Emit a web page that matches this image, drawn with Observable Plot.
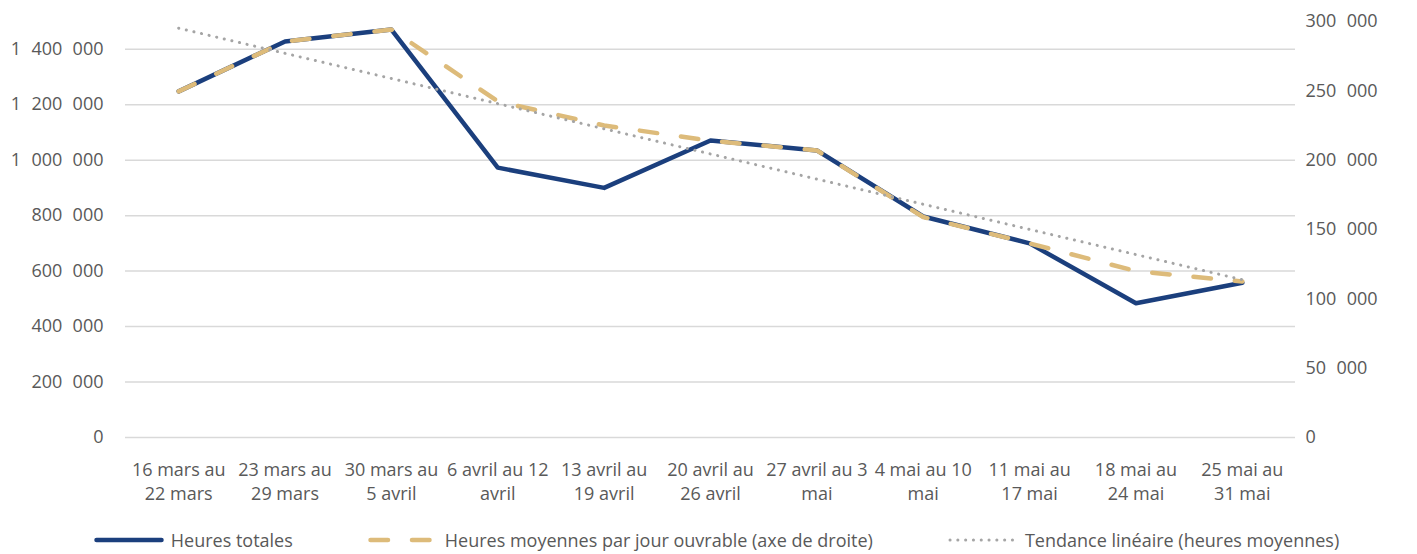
<!DOCTYPE html>
<html>
<head>
<meta charset="utf-8">
<script src="https://cdn.jsdelivr.net/npm/d3@7"></script>
<script src="https://cdn.jsdelivr.net/npm/@observablehq/plot@0.6"></script>
<style>
  html, body { margin: 0; padding: 0; background: #fff; }
  #chart { width: 1417px; }
  .legend { display: flex; justify-content: center; align-items: center; gap: 75px; width: 1417px; height: 44px; padding-left: 16px; padding-top: 16px; box-sizing: border-box;
    font-family: "Open Sans", sans-serif; font-size: 18px; color: #595959; }
  .legend .item { display: flex; align-items: center; gap: 7px; }
  .legend svg { display: block; }
</style>
</head>
<body>
<div id="chart"></div>
<script>
const categories = [
  "16 mars au\n22 mars", "23 mars au\n29 mars", "30 mars au\n5 avril", "6 avril au 12\navril",
  "13 avril au\n19 avril", "20 avril au\n26 avril", "27 avril au 3\nmai", "4 mai au 10\nmai",
  "11 mai au\n17 mai", "18 mai au\n24 mai", "25 mai au\n31 mai"
];
const heuresTotales = [1248000, 1428000, 1471000, 973000, 900000, 1071000, 1035000, 797000, 700000, 484000, 558000];
const heuresMoyennes = [249600, 285600, 294200, 242400, 225000, 214000, 207000, 159000, 140000, 120000, 112500];
const leftTicks = [0, 200000, 400000, 600000, 800000, 1000000, 1200000, 1400000];
const rightTicks = [0, 50000, 100000, 150000, 200000, 250000, 300000];
const seriesNames = ["Heures totales", "Heures moyennes par jour ouvrable (axe de droite)", "Tendance linéaire (heures moyennes)"];

const RATIO = 5; // right axis max 300 000 vs left axis max 1 500 000
const colors = { total: "#1B3F7D", avg: "#DDBB7A", trend: "#A5A5A5" };

const data = categories.map((c, i) => ({ i, total: heuresTotales[i], avg: heuresMoyennes[i] }));
const fmt = v => d3.format(",")(v).replace(/,/g, "\u2007");

const plot = Plot.plot({
  width: 1417,
  height: 510,
  marginLeft: 125,
  marginRight: 122,
  marginTop: 21,
  marginBottom: 73,
  style: { fontFamily: "'Open Sans', sans-serif", fontSize: "18px", color: "#595959", background: "#fff" },
  x: { type: "linear", domain: [-0.5, categories.length - 0.5], axis: null },
  y: { domain: [0, 1500000], axis: null },
  marks: [
    Plot.gridY(leftTicks, { stroke: "#D9D9D9", strokeOpacity: 1, strokeWidth: 1.5 }),
    Plot.axisY({ anchor: "left", label: null, ticks: leftTicks, tickFormat: fmt, tickSize: 0, tickPadding: 22, fill: "#595959" }),
    Plot.axisY({ anchor: "right", label: null, ticks: rightTicks.map(v => v * RATIO), tickFormat: v => fmt(v / RATIO), tickSize: 0, tickPadding: 10, fill: "#595959" }),
    Plot.axisX({ label: null, ticks: d3.range(categories.length), tickFormat: i => categories[i], tickSize: 0, tickPadding: 21, lineHeight: 1.36, fill: "#595959" }),
    Plot.line(data, { x: "i", y: "total", stroke: colors.total, strokeWidth: 4.5, strokeLinejoin: "round", strokeLinecap: "round" }),
    Plot.line(data, { x: "i", y: d => d.avg * RATIO, stroke: colors.avg, strokeWidth: 4.5, strokeDasharray: "17.5,24", strokeLinecap: "round", strokeLinejoin: "round" }),
    Plot.linearRegressionY(data, { x: "i", y: d => d.avg * RATIO, ci: 0, stroke: colors.trend, strokeWidth: 3, strokeDasharray: "0.1,7.7", strokeLinecap: "round" })
  ]
});
document.getElementById("chart").appendChild(plot);

// Legend
const legend = document.createElement("div");
legend.className = "legend";
const swatches = [
  `<line x1="2.5" y1="8" x2="67.5" y2="8" stroke="${colors.total}" stroke-width="4.5" stroke-linecap="round"/>`,
  `<line x1="2.5" y1="8" x2="67.5" y2="8" stroke="${colors.avg}" stroke-width="4.5" stroke-dasharray="17.5,24" stroke-linecap="round"/>`,
  `<line x1="2" y1="8" x2="68" y2="8" stroke="${colors.trend}" stroke-width="3" stroke-dasharray="0.1,7.7" stroke-linecap="round"/>`
];
seriesNames.forEach((name, k) => {
  const item = document.createElement("div");
  item.className = "item";
  item.innerHTML = `<svg width="70" height="16">${swatches[k]}</svg><span>${name}</span>`;
  legend.appendChild(item);
});
document.body.appendChild(legend);
</script>
</body>
</html>
